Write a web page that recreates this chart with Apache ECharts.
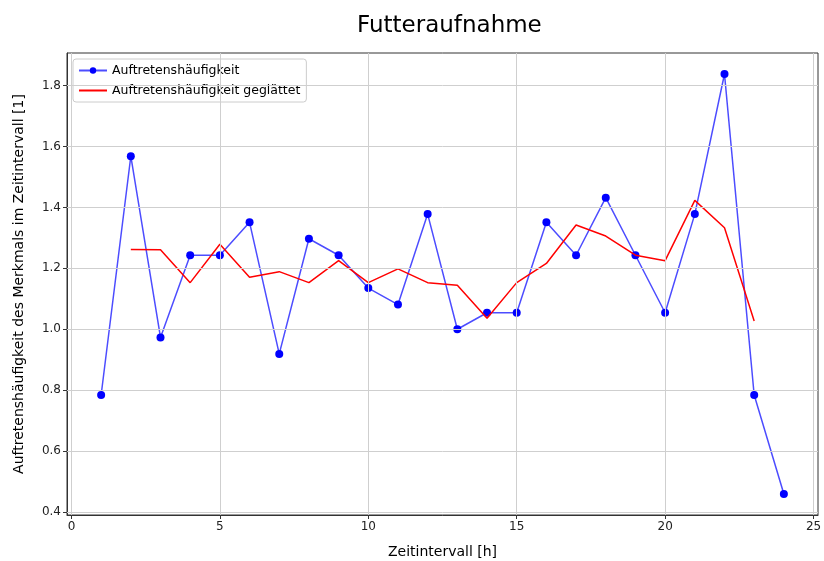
<!DOCTYPE html>
<html><head><meta charset="utf-8">
<script src="https://cdn.jsdelivr.net/npm/echarts@6/dist/echarts.min.js"></script>
<style>html,body{margin:0;padding:0;background:#fff}#c{width:824px;height:561px}</style>
</head><body><div id="c"></div>
<script>
const hours = [1,2,3,4,5,6,7,8,9,10,11,12,13,14,15,16,17,18,19,20,21,22,23,24];
const frequency = [0.784,1.568,0.973,1.243,1.243,1.351,0.919,1.297,1.243,1.135,1.081,1.378,1.000,1.054,1.054,1.351,1.243,1.432,1.243,1.054,1.378,1.838,0.784,0.459];
const smoothHours = [2,3,4,5,6,7,8,9,10,11,12,13,14,15,16,17,18,19,20,21,22,23];
const smoothed = [1.262,1.261,1.153,1.279,1.171,1.189,1.153,1.225,1.153,1.198,1.153,1.144,1.036,1.153,1.216,1.342,1.306,1.243,1.225,1.423,1.333,1.027];
const xTicks = [0,5,10,15,20,25];
const yTicks = [0.4,0.6,0.8,1.0,1.2,1.4,1.6,1.8];

const font = 'DejaVu Sans';
const chart = echarts.init(document.getElementById('c'), null, {renderer:'canvas'});
const gridColor = '#cfcfcf';
chart.setOption({
  animation:false,
  backgroundColor:'#fff',
  title:{text:'Futteraufnahme', left:352, top:10, textStyle:{fontFamily:font, fontSize:23, fontWeight:'normal', color:'#000'}},
  grid:{left:67, right:6, top:53, bottom:46, outerBoundsMode:'none', containLabel:false, show:true, borderColor:'#333', borderWidth:1, backgroundColor:'transparent'},
  legend:{
    left:73, top:59, orient:'vertical', itemGap:7, itemWidth:28, itemHeight:8,
    padding:[5,6,5,5], borderColor:'#ccc', borderWidth:1, borderRadius:3, backgroundColor:'rgba(255,255,255,0.8)',
    textStyle:{fontFamily:font, fontSize:12.5, color:'#000'},
    data:[
      {name:'Auftretenshäufigkeit'},
      {name:'Auftretenshäufigkeit geglättet', icon:'path://M0,0 H28 V2 H0 Z'}
    ]
  },
  xAxis:{
    type:'value', min:-0.15, max:25.15,
    name:'Zeitintervall [h]', nameLocation:'middle', nameGap:30,
    nameTextStyle:{fontFamily:font, fontSize:14, color:'#000'},
    axisLine:{show:true, onZero:false, lineStyle:{color:'#333'}},
    axisTick:{show:true, length:4, lineStyle:{color:'#333'}, customValues:xTicks},
    axisLabel:{fontFamily:font, fontSize:12, color:'#222', margin:6, customValues:xTicks, showMinLabel:true, showMaxLabel:true},
    splitLine:{show:false}
  },
  yAxis:{
    type:'value', min:0.39, max:1.907,
    name:'Auftretenshäufigkeit des Merkmals im Zeitintervall [1]', nameLocation:'middle', nameGap:41,
    nameTextStyle:{fontFamily:font, fontSize:14, color:'#000'},
    axisLine:{show:true, onZero:false, lineStyle:{color:'#333'}},
    axisTick:{show:true, length:4, lineStyle:{color:'#333'}, customValues:yTicks},
    axisLabel:{fontFamily:font, fontSize:12, color:'#222', margin:6, customValues:yTicks, formatter:v=>v.toFixed(1)},
    splitLine:{show:false}
  },
  series:[
    {
      name:'grid', type:'line', data:[], silent:true, z:0, legendHoverLink:false,
      markLine:{silent:true, symbol:['none','none'], label:{show:false}, animation:false,
        lineStyle:{color:gridColor, width:1, type:'solid'},
        data: xTicks.map(v=>({xAxis:v})).concat(yTicks.map(v=>({yAxis:v})))}
    },
    {
      name:'Auftretenshäufigkeit', type:'line', z:3,
      data: hours.map((h,i)=>[h, frequency[i]]),
      symbol:'circle', symbolSize:8, showSymbol:true,
      itemStyle:{color:'#0000ff'},
      lineStyle:{color:'rgba(0,0,255,0.7)', width:1.5}
    },
    {
      name:'Auftretenshäufigkeit geglättet', type:'line', z:4,
      data: smoothHours.map((h,i)=>[h, smoothed[i]]),
      symbol:'none', showSymbol:false,
      itemStyle:{color:'#ff0000'},
      lineStyle:{color:'#ff0000', width:1.5}
    }
  ]
});
</script></body></html>
